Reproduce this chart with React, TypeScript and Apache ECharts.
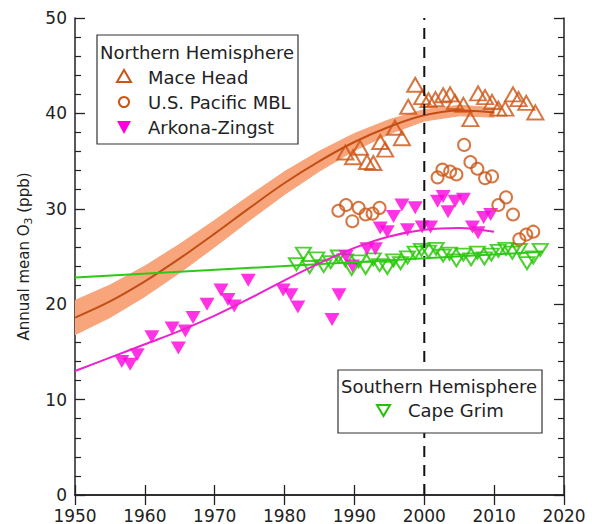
import React, { useEffect, useRef } from "react";
import * as echarts from "echarts";

// ---- Data ----
const maceHeadYears = [1988.7, 1989.8, 1990.8, 1991.8, 1992.7, 1993.7, 1994.4, 1995.8, 1996.8, 1997.7, 1998.7, 1999.7, 2000.6, 2001.6, 2002.7, 2003.7, 2004.4, 2005.6, 2006.6, 2007.7, 2008.7, 2009.7, 2010.6, 2011.6, 2012.7, 2013.5, 2014.6, 2015.9];
const maceHeadO3 = [35.9, 35.4, 36.4, 34.9, 34.8, 37.0, 36.2, 38.5, 37.4, 40.7, 43.0, 41.7, 41.4, 41.5, 41.9, 42.0, 41.2, 40.9, 39.4, 42.1, 41.7, 41.2, 40.5, 40.5, 42.0, 41.5, 41.1, 40.1];

const pacificYears = [1987.7, 1988.8, 1989.7, 1990.6, 1991.6, 1992.6, 1993.6, 2001.9, 2002.6, 2003.7, 2004.6, 2005.7, 2006.6, 2007.6, 2008.7, 2009.7, 2010.6, 2011.7, 2012.7, 2013.6, 2014.6, 2015.6];
const pacificO3 = [29.8, 30.4, 28.7, 30.1, 29.4, 29.5, 30.1, 33.3, 34.1, 33.9, 33.6, 36.7, 34.9, 34.2, 33.2, 33.4, 30.4, 31.2, 29.4, 26.8, 27.3, 27.6];

const arkonaYears = [1956.7, 1957.9, 1958.9, 1961.0, 1963.9, 1964.8, 1965.8, 1966.9, 1968.9, 1970.9, 1971.9, 1972.8, 1974.8, 1979.8, 1980.9, 1981.9, 1986.8, 1987.8, 1988.8, 1989.7, 1991.8, 1993.0, 1993.7, 1994.7, 1995.6, 1996.8, 1997.6, 1998.7, 1999.7, 2000.9, 2001.9, 2002.7, 2003.4, 2004.4, 2005.6, 2006.9, 2007.7, 2008.5, 2009.5];
const arkonaO3 = [14.0, 13.7, 14.7, 16.6, 17.5, 15.4, 17.2, 18.6, 20.0, 21.5, 20.5, 19.8, 22.5, 21.5, 21.0, 19.7, 18.4, 21.0, 25.0, 24.0, 25.8, 25.8, 28.0, 27.6, 29.2, 30.4, 27.8, 30.1, 28.1, 28.1, 30.8, 31.3, 29.7, 30.8, 31.0, 28.1, 27.5, 29.1, 29.4];

const capeGrimYears = [1981.7, 1982.7, 1983.6, 1984.6, 1985.6, 1986.6, 1987.7, 1988.7, 1989.6, 1990.6, 1991.6, 1992.7, 1993.6, 1994.7, 1995.6, 1996.6, 1997.6, 1998.7, 1999.6, 2000.6, 2001.7, 2002.7, 2003.6, 2004.6, 2005.6, 2006.7, 2007.6, 2008.6, 2009.6, 2010.6, 2011.7, 2012.6, 2013.6, 2014.7, 2015.6, 2016.6];
const capeGrimO3 = [24.2, 25.3, 23.9, 24.8, 24.0, 24.4, 25.0, 24.6, 23.7, 24.5, 23.8, 24.7, 24.1, 23.8, 24.6, 24.3, 24.9, 25.4, 25.7, 25.5, 25.8, 25.1, 25.3, 24.6, 25.2, 24.7, 25.4, 24.8, 25.2, 25.6, 25.8, 25.4, 25.7, 24.3, 24.9, 25.7];

// Northern Hemisphere fit (Mace Head) with uncertainty band
const nhFitYears = [1950, 1955, 1960, 1965, 1970, 1975, 1980, 1985, 1990, 1995, 2000, 2005, 2010];
const nhFitO3 = [18.6, 20.3, 22.4, 24.8, 27.4, 30.1, 32.7, 35.0, 37.0, 38.6, 39.8, 40.3, 40.1];
const nhFitHalfWidth = [1.8, 1.7, 1.6, 1.5, 1.4, 1.3, 1.2, 1.05, 0.9, 0.75, 0.6, 0.55, 0.5];

// Arkona-Zingst fit
const arkonaFitYears = [1950, 1955, 1960, 1965, 1970, 1975, 1980, 1985, 1990, 1995, 2000, 2005, 2010];
const arkonaFitO3 = [13.0, 14.4, 15.8, 17.2, 18.8, 20.6, 22.5, 24.3, 25.9, 27.1, 27.8, 28.0, 27.6];

// Cape Grim fit
const capeFitYears = [1950, 2017];
const capeFitO3 = [22.8, 25.5];

const dividerYear = [2000, 2000];
const dividerO3 = [0, 50];

const zip = (xs: number[], ys: number[]) => xs.map((x, i) => [x, ys[i]]);

const FONT = "DejaVu Sans";
const TEXT = "#222";
const ORANGE = "#CC5514";
const ORANGE_LINE = "#C24E16";
const BAND = "#F8A57C";
const MAGENTA = "#FF00DD";
const MAGENTA_LINE = "#EE22CC";
const GREEN = "#22C400";
const GREEN_LINE = "#30C818";

export default function App() {
  const ref = useRef<HTMLDivElement>(null);

  useEffect(() => {
    const chart = echarts.init(ref.current!, null, { renderer: "svg" });

    const axisLine = { show: true, lineStyle: { color: TEXT, width: 1.5 } };
    const xCommon = {
      type: "value" as const,
      min: 1950,
      max: 2020,
      interval: 10,
      axisLine,
      splitLine: { show: false },
      axisTick: { show: true, inside: true, length: 10, lineStyle: { color: TEXT, width: 1.3 } },
    };
    const yCommon = {
      type: "value" as const,
      min: 0,
      max: 50,
      interval: 10,
      axisLine,
      splitLine: { show: false },
      axisTick: { show: true, inside: true, length: 10, lineStyle: { color: TEXT, width: 1.3 } },
      minorTick: { show: true, splitNumber: 5, length: 6, lineStyle: { color: TEXT, width: 1.2 } },
    };

    const legendText = (text: string, x: number, y: number) => ({
      type: "text",
      z: 101,
      style: { text, x, y, fontSize: 18, fontFamily: FONT, fill: TEXT, align: "left", verticalAlign: "middle" },
    });

    const option: any = {
      animation: false,
      backgroundColor: "#fff",
      grid: { left: 75, right: 28, top: 18, bottom: 28, containLabel: false },
      xAxis: [
        {
          ...xCommon,
          position: "bottom",
          axisLabel: { fontSize: 17, color: TEXT, fontFamily: FONT, margin: 12, formatter: (v: number) => String(v) },
        },
        { ...xCommon, position: "top", axisLabel: { show: false } },
      ],
      yAxis: [
        {
          ...yCommon,
          position: "left",
          axisLabel: { fontSize: 17, color: TEXT, fontFamily: FONT, margin: 8, formatter: (v: number) => String(v) },
          name: "{a|Annual mean O}{s|3}{a| (ppb)}",
          nameLocation: "middle",
          nameRotate: 90,
          nameGap: 40,
          nameTextStyle: {
            color: TEXT,
            rich: {
              a: { fontSize: 15, fontFamily: FONT, color: TEXT, lineHeight: 20 },
              s: { fontSize: 11, fontFamily: FONT, color: TEXT, verticalAlign: "bottom", lineHeight: 20, padding: [7, 0, 0, 0] },
            },
          },
        },
        { ...yCommon, position: "right", axisLabel: { show: false } },
      ],
      series: [
        {
          type: "custom",
          clip: true,
          silent: true,
          data: zip(nhFitYears, nhFitO3),
          encode: { x: 0, y: 1 },
          renderItem: (params: any, api: any) => {
            if (params.dataIndex !== 0) return null;
            const upper = nhFitYears.map((yr, i) => api.coord([yr, nhFitO3[i] + nhFitHalfWidth[i]]));
            const lowerPts = nhFitYears.map((yr, i) => api.coord([yr, nhFitO3[i] - nhFitHalfWidth[i]])).reverse();
            return {
              type: "polygon",
              shape: { points: upper.concat(lowerPts) },
              style: { fill: BAND, stroke: BAND, lineWidth: 1, lineJoin: "round" },
            };
          },
        },
        {
          type: "line",
          data: zip(nhFitYears, nhFitO3),
          smooth: 0.35,
          symbol: "none",
          lineStyle: { color: ORANGE_LINE, width: 2 },
        },
        {
          type: "line",
          data: zip(dividerYear, dividerO3),
          symbol: "none",
          lineStyle: { color: "#111", width: 2, type: [11, 8] },
        },
        {
          type: "line",
          data: zip(capeFitYears, capeFitO3),
          symbol: "none",
          lineStyle: { color: GREEN_LINE, width: 2 },
        },
        {
          type: "line",
          data: zip(arkonaFitYears, arkonaFitO3),
          smooth: 0.35,
          symbol: "none",
          lineStyle: { color: MAGENTA_LINE, width: 2 },
        },
        {
          name: "Cape Grim",
          type: "scatter",
          data: zip(capeGrimYears, capeGrimO3),
          symbol: "triangle",
          symbolRotate: 180,
          symbolSize: [15, 12],
          itemStyle: { color: "transparent", borderColor: GREEN, borderWidth: 2 },
        },
        {
          name: "Arkona-Zingst",
          type: "scatter",
          data: zip(arkonaYears, arkonaO3),
          symbol: "triangle",
          symbolRotate: 180,
          symbolSize: [15, 13],
          itemStyle: { color: MAGENTA },
        },
        {
          name: "U.S. Pacific MBL",
          type: "scatter",
          data: zip(pacificYears, pacificO3),
          symbol: "circle",
          symbolSize: 12,
          itemStyle: { color: "transparent", borderColor: ORANGE, borderWidth: 2 },
        },
        {
          name: "Mace Head",
          type: "scatter",
          data: zip(maceHeadYears, maceHeadO3),
          symbol: "triangle",
          symbolSize: [16, 14],
          itemStyle: { color: "transparent", borderColor: ORANGE, borderWidth: 2 },
        },
      ],
      graphic: [
        // Northern Hemisphere legend
        {
          type: "rect",
          z: 100,
          shape: { x: 97, y: 35, width: 201, height: 109 },
          style: { fill: "#fff", stroke: "#333", lineWidth: 1.2 },
        },
        legendText("Northern Hemisphere", 100, 52),
        {
          type: "polygon",
          z: 101,
          shape: { points: [[124, 70], [117, 82], [131, 82]] },
          style: { fill: "none", stroke: ORANGE, lineWidth: 2 },
        },
        legendText("Mace Head", 148, 77),
        {
          type: "circle",
          z: 101,
          shape: { cx: 124, cy: 102, r: 5 },
          style: { fill: "none", stroke: ORANGE, lineWidth: 2 },
        },
        legendText("U.S. Pacific MBL", 148, 102),
        {
          type: "polygon",
          z: 101,
          shape: { points: [[117, 121], [131, 121], [124, 134]] },
          style: { fill: MAGENTA },
        },
        legendText("Arkona-Zingst", 148, 127),
        // Southern Hemisphere legend
        {
          type: "rect",
          z: 100,
          shape: { x: 338, y: 370, width: 204, height: 63 },
          style: { fill: "#fff", stroke: "#333", lineWidth: 1.2 },
        },
        legendText("Southern Hemisphere", 341, 386),
        {
          type: "polygon",
          z: 101,
          shape: { points: [[377, 405], [390, 405], [383.5, 416]] },
          style: { fill: "none", stroke: GREEN, lineWidth: 2 },
        },
        legendText("Cape Grim", 408, 410),
      ],
    };

    chart.setOption(option);
    return () => chart.dispose();
  }, []);

  return (
    <div
      ref={ref}
      style={{ position: "fixed", left: 0, top: 0, width: 592, height: 524, background: "#fff" }}
    />
  );
}
